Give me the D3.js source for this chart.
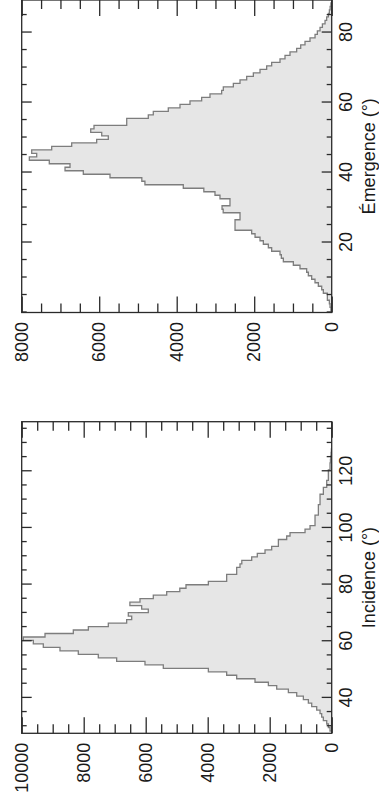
<!DOCTYPE html>
<html><head><meta charset="utf-8">
<script src="https://cdn.jsdelivr.net/npm/d3@7"></script>
<style>
html,body{margin:0;padding:0;background:#fff;}
svg{display:block;}
text{font-family:"Liberation Sans",Arial,Helvetica,sans-serif;fill:#1a1a1a;}
</style></head><body>
<svg id="chart" width="379" height="807"></svg>
<script>
// Émergence histogram: 1° bins centred on 0..88
const emergenceCounts = [5,20,43,60,112,112,216,258,345,431,517,603,646,818,990,1248,1300,1334,1549,1635,1764,1850,1978,2065,
  2495,2495,2495,2366,2366,2800,2830,2625,2625,2883,3012,3300,3830,4820,4900,5721,6410,6882,6753,7288,7803,7613,7742,7226,6710,
  6065,5765,5935,6219,6134,5290,5290,4733,4604,4217,3915,3657,3356,3141,2840,2797,2538,2366,2194,2022,1850,1678,1549,1334,1205,
  1076,904,800,689,560,430,370,301,240,172,130,86,60,40,20];
const emergenceBinStart = -0.5;
const emergenceBinWidth = 1;
// Incidence histogram bins
const incidenceCounts = [54,108,161,270,323,376,484,645,753,914,1129,1398,1774,2043,2474,3065,3388,3979,5432,6023,6937,7529,8174,
  8765,9303,9625,9948,9248,8335,7850,7206,6614,6452,6561,5916,6130,6510,6184,5755,5323,4900,4700,3979,3388,3388,3065,3065,2958,
  2900,2581,2400,2151,1936,1720,1720,1452,1344,860,699,538,538,538,430,430,430,376,376,376,269,269,161,161,108,108,108,54,54,40,30,20,10];
const incidenceBinStart = 28.32;
const incidenceBinWidth = 1.229;

const emergenceAngleDomain = [0, 89.3];
const incidenceAngleDomain = [27.5, 137.5];
const emergenceCountMax = 8000;
const incidenceCountMax = 10000;
const emergenceAngleTicks = [20, 40, 60, 80];
const incidenceAngleTicks = [40, 60, 80, 100, 120];
const emergenceCountTicks = [0, 2000, 4000, 6000, 8000];
const incidenceCountTicks = [0, 2000, 4000, 6000, 8000, 10000];
const axisTitles = ["Émergence (°)", "Incidence (°)"];

const svg = d3.select("#chart");

function drawPanel(p) {
  const g = svg.append("g").attr("transform", `translate(${p.tx},${p.ty}) rotate(-90)`);
  const W = p.W, H = p.H;
  const x = d3.scaleLinear().domain(p.angleDomain).range([0, W]);
  const y = d3.scaleLinear().domain([0, p.countMax]).range([H, 0]);

  g.append("clipPath").attr("id", p.id).append("rect").attr("width", W).attr("height", H);

  const n = p.counts.length;
  const end = p.binStart + n * p.binWidth;
  const pts = [[p.binStart, 0]].concat(p.counts.map((c, i) => [p.binStart + i * p.binWidth, c]),
    [[end, p.counts[n - 1]], [end, 0]]);
  const hg = g.append("g").attr("clip-path", `url(#${p.id})`);
  hg.append("path").datum(pts)
    .attr("d", d3.area().x(d => x(d[0])).y0(y(0)).y1(d => y(d[1])).curve(d3.curveStepAfter))
    .attr("fill", "#e6e6e6");
  hg.append("path").datum(pts)
    .attr("d", d3.line().x(d => x(d[0])).y(d => y(d[1])).curve(d3.curveStepAfter))
    .attr("fill", "none").attr("stroke", "#7d7d7d").attr("stroke-width", 1.3);

  const minorAngles = d3.range(Math.ceil(p.angleDomain[0] / 5) * 5, p.angleDomain[1], 5)
    .filter(v => !p.angleTicks.includes(v));
  const minorCounts = d3.range(0, p.countMax, 500).filter(v => !p.countTicks.includes(v));

  function styleAxis(sel) {
    sel.select(".domain").remove();
    sel.selectAll("line").attr("stroke", "#2a2a2a").attr("stroke-width", 1.3);
    sel.selectAll("text").attr("font-size", 18).attr("fill", "#1a1a1a")
      .attr("font-family", '"Liberation Sans",Arial,Helvetica,sans-serif');
  }
  // angle axes (bottom with labels, top without)
  g.append("g").attr("transform", `translate(0,${H})`)
    .call(d3.axisBottom(x).tickValues(minorAngles).tickSizeInner(-5).tickSizeOuter(0).tickFormat("")).call(styleAxis);
  g.append("g").attr("transform", `translate(0,${H})`)
    .call(d3.axisBottom(x).tickValues(p.angleTicks).tickSizeInner(-10).tickSizeOuter(0).tickPadding(8).tickFormat(d3.format("d"))).call(styleAxis);
  g.append("g")
    .call(d3.axisTop(x).tickValues(minorAngles).tickSizeInner(-5).tickSizeOuter(0).tickFormat("")).call(styleAxis);
  g.append("g")
    .call(d3.axisTop(x).tickValues(p.angleTicks).tickSizeInner(-10).tickSizeOuter(0).tickFormat("")).call(styleAxis);
  // count axes (left with labels, right without)
  g.append("g")
    .call(d3.axisLeft(y).tickValues(minorCounts).tickSizeInner(-9).tickSizeOuter(0).tickFormat("")).call(styleAxis);
  g.append("g")
    .call(d3.axisLeft(y).tickValues(p.countTicks).tickSizeInner(-16).tickSizeOuter(0).tickPadding(9.5).tickFormat(d3.format("d"))).call(styleAxis);
  g.append("g").attr("transform", `translate(${W},0)`)
    .call(d3.axisRight(y).tickValues(minorCounts).tickSizeInner(-9).tickSizeOuter(0).tickFormat("")).call(styleAxis);
  g.append("g").attr("transform", `translate(${W},0)`)
    .call(d3.axisRight(y).tickValues(p.countTicks).tickSizeInner(-16).tickSizeOuter(0).tickFormat("")).call(styleAxis);

  g.append("rect").attr("width", W).attr("height", H)
    .attr("fill", "none").attr("stroke", "#2a2a2a").attr("stroke-width", 1.3);

  g.append("text").attr("x", W / 2).attr("y", H + 43).attr("text-anchor", "middle")
    .attr("font-size", 18).text(p.title);
}

drawPanel({id: "clipE", tx: 21.7, ty: 312.5, W: 312.5, H: 310,
  angleDomain: emergenceAngleDomain, countMax: emergenceCountMax, counts: emergenceCounts,
  binStart: emergenceBinStart, binWidth: emergenceBinWidth,
  angleTicks: emergenceAngleTicks, countTicks: emergenceCountTicks, title: axisTitles[0]});
drawPanel({id: "clipI", tx: 21.7, ty: 733.3, W: 311.6, H: 310,
  angleDomain: incidenceAngleDomain, countMax: incidenceCountMax, counts: incidenceCounts,
  binStart: incidenceBinStart, binWidth: incidenceBinWidth,
  angleTicks: incidenceAngleTicks, countTicks: incidenceCountTicks, title: axisTitles[1]});
</script>
</body></html>
